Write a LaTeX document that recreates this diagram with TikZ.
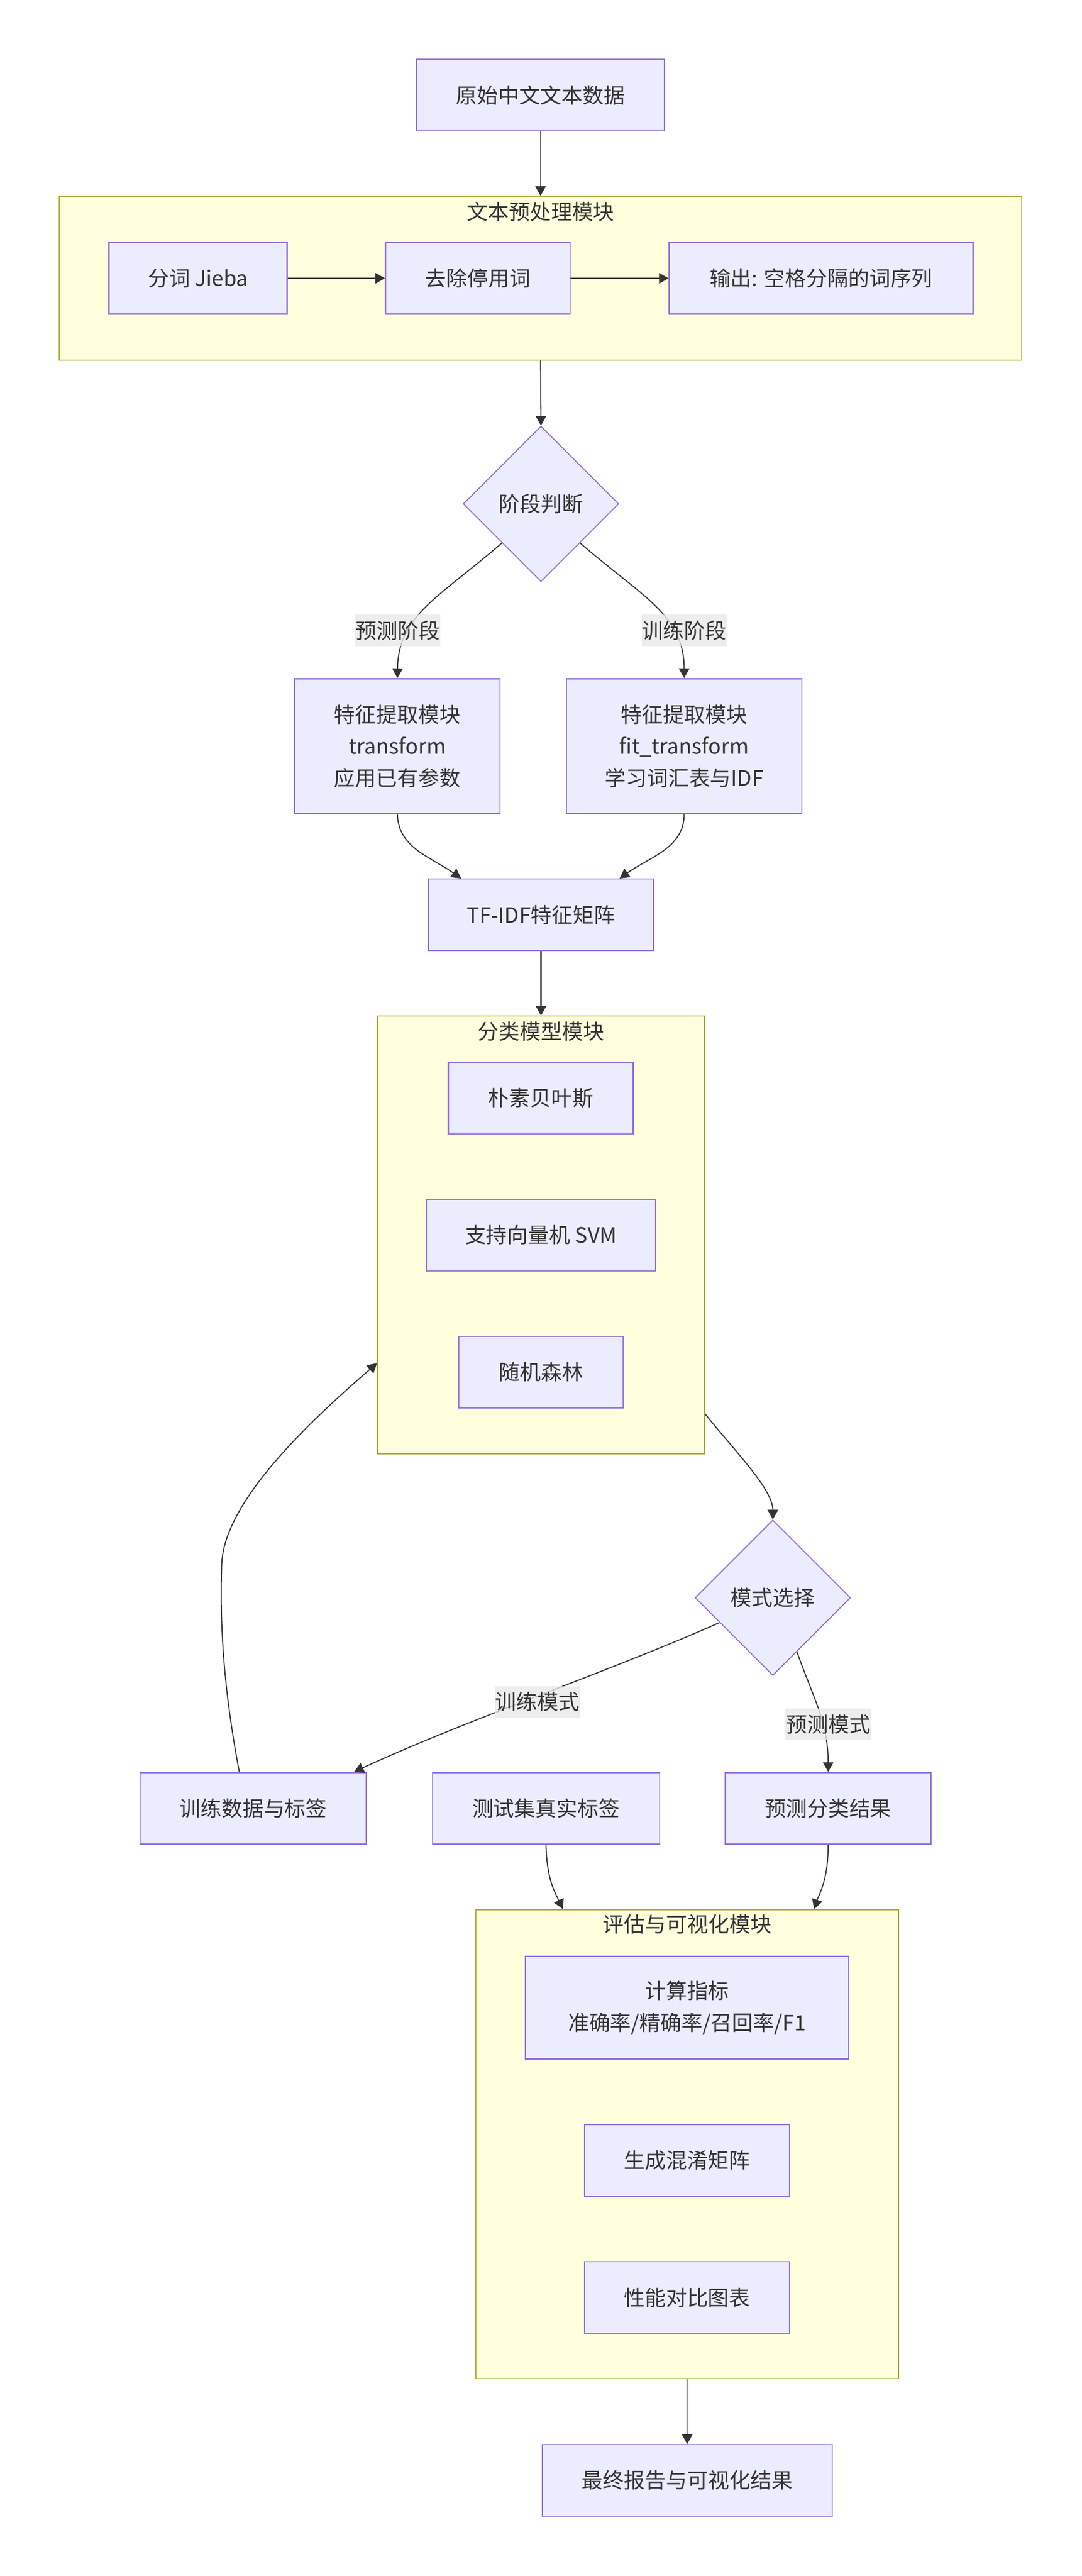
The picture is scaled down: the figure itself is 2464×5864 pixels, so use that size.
\documentclass[tikz,border=0pt]{standalone}
\usepackage{fontspec}
\setmainfont{Noto Sans CJK SC}
\usetikzlibrary{shapes.geometric,arrows.meta,calc}
\definecolor{nodefill}{HTML}{ECECFF}
\definecolor{nodeline}{HTML}{9370DB}
\definecolor{clusfill}{HTML}{FFFFDE}
\definecolor{clusline}{HTML}{AAAA33}
\definecolor{edgecol}{HTML}{333333}
\definecolor{lblfill}{HTML}{E8E8E8}
\definecolor{txt}{HTML}{333333}
\begin{document}
\begin{tikzpicture}[x=0.25pt,y=-0.25pt,
  every node/.style={font=\fontsize{12pt}{18pt}\selectfont, text=txt},
  box/.style={draw=nodeline, fill=nodefill, line width=0.7pt, rectangle, inner sep=0pt, align=center, minimum height=40.75pt},
  decision/.style={draw=nodeline, fill=nodefill, line width=0.6pt, diamond, aspect=1, inner sep=0pt, minimum width=88.5pt, minimum height=88.5pt},
  cluster/.style={draw=clusline, fill=clusfill, line width=0.6pt, rectangle, inner sep=0pt},
  ctitle/.style={inner sep=0pt},
  link/.style={draw=edgecol, line width=0.6pt, -{Triangle[length=5.5pt,width=6pt]}},
  elabel/.style={fill=lblfill, fill opacity=0.8, text opacity=1, inner sep=0pt, minimum height=17.75pt, minimum width=48.5pt}
]
\useasboundingbox (0,0) rectangle (2464,5864);

% clusters
\node[cluster, minimum width=548pt, minimum height=93.25pt] (c1) at (1231,633.5) {};
\node[ctitle] (c1t) at (1231,482) {文本预处理模块};
\node[cluster, minimum width=186pt, minimum height=249pt] (c2) at (1232,2811) {};
\node[ctitle] (c2t) at (1232,2348) {分类模型模块};
\node[cluster, minimum width=240.5pt, minimum height=267pt] (c3) at (1565,4881) {};
\node[ctitle] (c3t) at (1565,4380) {评估与可视化模块};

% nodes
\node[box, minimum width=141pt] (raw) at (1231,216.5) {原始中文文本数据};
\node[box, minimum width=101.5pt] (jieba) at (451,633.5) {分词 Jieba};
\node[box, minimum width=105pt] (stop) at (1088,633.5) {去除停用词};
\node[box, minimum width=173pt] (out) at (1870,633.5) {输出: 空格分隔的词序列};
\node[decision] (d1) at (1232,1147) {阶段判断};
\node[box, minimum width=117pt, minimum height=76.75pt] (fL) at (905,1698.5) {特征提取模块\\transform\\应用已有参数};
\node[box, minimum width=134pt, minimum height=76.75pt] (fR) at (1558,1698.5) {特征提取模块\\fit\_transform\\学习词汇表与IDF};
\node[box, minimum width=128pt] (tf) at (1232,2082.5) {TF-IDF特征矩阵};
\node[box, minimum width=105.25pt] (nb) at (1231.5,2499.5) {朴素贝叶斯};
\node[box, minimum width=130.5pt] (svm) at (1232,2811.5) {支持向量机 SVM};
\node[box, minimum width=93.5pt] (rf) at (1232,3123.5) {随机森林};
\node[decision] (d2) at (1760,3637) {模式选择};
\node[box, minimum width=128.75pt] (train) at (576.5,4116.5) {训练数据与标签};
\node[box, minimum width=129.25pt] (test) at (1243.5,4116.5) {测试集真实标签};
\node[box, minimum width=117pt] (pred) at (1886,4116.5) {预测分类结果};
\node[box, minimum width=184.25pt, minimum height=58.5pt] (met) at (1564.5,4570) {计算指标\\准确率/精确率/召回率/F1};
\node[box, minimum width=116.75pt] (cm) at (1564.5,4918) {生成混淆矩阵};
\node[box, minimum width=116.75pt] (perf) at (1564.5,5230) {性能对比图表};
\node[box, minimum width=165pt] (final) at (1565,5646.5) {最终报告与可视化结果};

% connector end points
\coordinate (tfin1) at ([xshift=-45.5pt]tf.north);
\coordinate (tfin2) at ([xshift=44.75pt]tf.north);
\coordinate (c2out) at ([yshift=-101.75pt]c2.east);
\coordinate (c2in) at ([yshift=-73pt]c2.west);
\coordinate (trin) at ([xshift=-7.25pt]train.north east);
\coordinate (trout) at ([xshift=-7.875pt]train.north);
\coordinate (c3in1) at ([xshift=-70.75pt]c3.north);
\coordinate (c3in2) at ([xshift=72.25pt]c3.north);

% connectors
\draw[link] (raw.south) -- (c1.north);
\draw[link] (jieba) -- (stop);
\draw[link] (stop) -- (out);
\draw[link] (c1.south) -- (d1.north);
\draw[link] (d1.south west) .. controls (1000,1360) and (907,1400) .. (fL.north);
\draw[link] (d1.south east) .. controls (1464,1360) and (1558,1400) .. (fR.north);
\draw[link] (fL.south) .. controls (907,1930) and (980,1950) .. (tfin1);
\draw[link] (fR.south) .. controls (1558,1930) and (1481,1950) .. (tfin2);
\draw[link] (tf.south) -- (c2.north);
\draw[link] (c2out) .. controls (1674,3304) and (1760,3390) .. (d2.north);
\draw[link] (d2.205) .. controls (1400,3800) and (1050,3920) .. (trin);
\draw[link] (d2.294) .. controls (1850,3860) and (1886,3920) .. (pred.north);
\draw[link] (trout) .. controls (510,3850) and (500,3700) .. (505,3560) .. controls (510,3420) and (700,3240) .. (c2in);
\draw[link] (test.south) .. controls (1245,4280) and (1265,4310) .. (c3in1);
\draw[link] (pred.south) .. controls (1886,4280) and (1866,4310) .. (c3in2);
\draw[link] (c3.south) -- (final.north);

% edge labels
\node[elabel] (l1) at (906,1435) {预测阶段};
\node[elabel] (l2) at (1558,1435) {训练阶段};
\node[elabel] (l3) at (1224,3874) {训练模式};
\node[elabel] (l4) at (1886,3925) {预测模式};
\end{tikzpicture}
\end{document}
